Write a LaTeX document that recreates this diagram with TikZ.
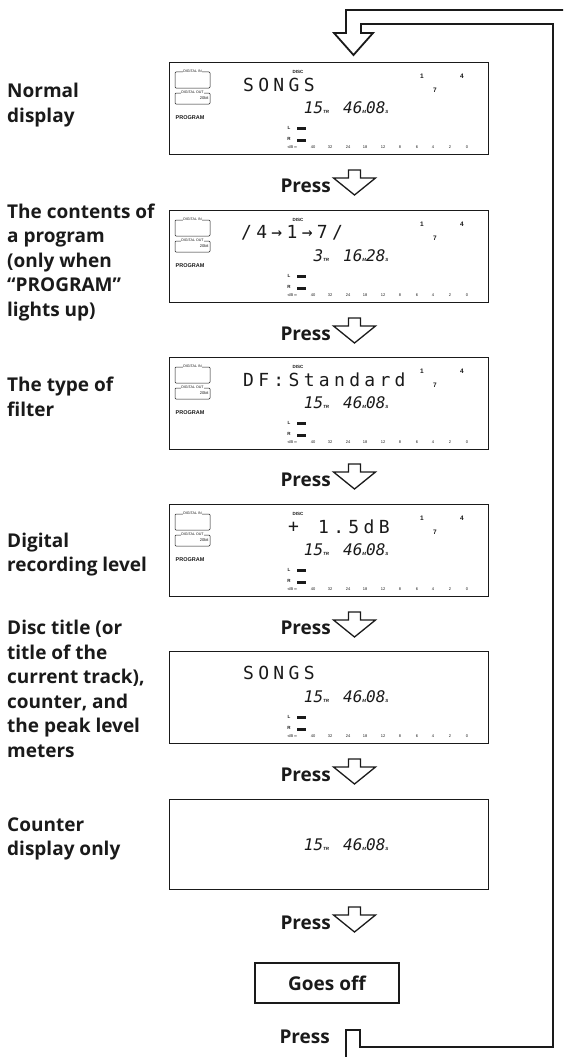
\documentclass[tikz,border=0pt]{standalone}
\usepackage{fontspec}
\setmainfont{Open Sans}
\newfontfamily\lcdfont[LetterSpace=24]{DejaVu Sans Mono}
\newfontfamily\segfont{DejaVu Sans Mono}
\newfontfamily\tagfont{Liberation Sans}
\usetikzlibrary{positioning}
\definecolor{ink}{HTML}{1A1A1A}
\newcommand{\segsub}[1]{{\tagfont\bfseries\fontsize{4.5}{4.5}\selectfont#1}}
\tikzset{
  lcd/.style={draw=ink,line width=1.1pt,minimum width=319pt,minimum height=92pt,
    anchor=north west,inner sep=0pt},
  lcdtext/.style={font=\lcdfont\fontsize{18}{18}\selectfont,text=ink,anchor=west,inner sep=0pt},
  seg/.style={font=\segfont\itshape\fontsize{16}{16}\selectfont,text=ink,anchor=west,inner sep=0pt},
  tag/.style={font=\tagfont\bfseries\fontsize{4.5}{4.5}\selectfont,text=ink,inner sep=0pt},
  tagbox/.style={draw=ink,line width=.5pt,rounded corners=1pt,minimum width=35pt,inner sep=0pt},
  sidetext/.style={font=\fontsize{19}{24.5}\selectfont\bfseries,text=ink,align=left,
    anchor=west,inner sep=0pt},
  presstext/.style={font=\fontsize{19}{20}\selectfont\bfseries,text=ink,anchor=east,inner sep=0pt},
  offbox/.style={draw=ink,line width=1.6pt,minimum width=144pt,minimum height=40pt,
    font=\fontsize{19}{20}\selectfont\bfseries,text=ink},
  band/.style={draw=ink,line width=1.8pt,line join=miter},
  hollow/.style={draw=ink,line width=1.3pt,fill=white,line join=miter},
  pressarrow/.pic={\draw[hollow] (-6,-16) -- (6,-16) -- (6,-8) -- (21,-8) -- (0,9)
    -- (-21,-8) -- (-6,-8) -- cycle;},
}
\newcommand{\lcdextras}[2]{%
  \node[tagbox,minimum height=16pt] (#1din) at (192.5,#2+18) {};
  \node[tag,fill=white,inner xsep=.8pt,font=\tagfont\fontsize{3.6}{3.6}\selectfont] (#1dinlbl) at (#1din.north) {DIGITAL IN};
  \node[tagbox,minimum height=11pt] (#1dout) at (192.5,#2+36.5) {};
  \node[tag,fill=white,inner xsep=.5pt,font=\tagfont\fontsize{3.6}{3.6}\selectfont] (#1doutlbl) at (#1dout.north) {DIGITAL OUT};
  \node[tag,anchor=east,font=\tagfont\fontsize{4}{4}\selectfont] (#1bit) at ([xshift=-1.5pt]#1dout.east) {20bit};
  \node[tag,font=\tagfont\bfseries\fontsize{5.5}{5.5}\selectfont] (#1prog) at (190,#2+56) {PROGRAM};
  \node[tag] (#1disc) at (298,#2+10) {DISC};
  \foreach \n/\x/\y in {1/422/14,4/462/14,7/435/28}
    \node[tag,font=\tagfont\bfseries\fontsize{6.5}{6.5}\selectfont] (#1num\n) at (\x,#2+\y) {\n};
}
\newcommand{\lcdmeter}[2]{%
  \node[tag] (#1ml) at (289,#2+66) {L};\fill[ink] (297,#2+64.5) rectangle (306,#2+67.5);
  \node[tag] (#1mr) at (289,#2+77) {R};\fill[ink] (297,#2+76.5) rectangle (306,#2+79.5);
  \node[tag,font=\tagfont\fontsize{4}{4}\selectfont] (#1db) at (292,#2+85) {-dB\,∞};
  \foreach \v/\x in {40/313,32/330,24/348,18/365,12/383,8/400,6/417,4/433,2/450,0/467}
    \node[tag,font=\tagfont\fontsize{4}{4}\selectfont] (#1s\v) at (\x,#2+85) {\v};
}
\newcommand{\lcdcount}[5]{%
  \node[seg] (#1cnt) at (305,#2+46) {\makebox[18pt][r]{#3}\segsub{TR}\hspace{14pt}#4\segsub{M}#5\segsub{S}};
}

\begin{document}
\begin{tikzpicture}[x=1pt,y=-1pt]
\useasboundingbox (0,0) rectangle (563,1057);
\node[lcd] (disp1) at (169,62) {};
\lcdextras{p1}{62}\node[lcdtext] (p1txt) at (243,85) {SONGS};
\lcdcount{p1}{62}{15}{46}{08}\lcdmeter{p1}{62}
\node[lcd] (disp2) at (169,210) {};
\lcdextras{p2}{210}\node[lcdtext] (p2txt) at (241,233) {/4→1→7/};
\lcdcount{p2}{210}{3}{16}{28}\lcdmeter{p2}{210}
\node[lcd] (disp3) at (169,357) {};
\lcdextras{p3}{357}\node[lcdtext] (p3txt) at (243,380) {DF:Standard};
\lcdcount{p3}{357}{15}{46}{08}\lcdmeter{p3}{357}
\node[lcd] (disp4) at (169,504) {};
\lcdextras{p4}{504}\node[lcdtext] (p4plus) at (288,527) {+};\node[lcdtext] (p4txt) at (318,527) {1.5dB};
\lcdcount{p4}{504}{15}{46}{08}\lcdmeter{p4}{504}
\node[lcd] (disp5) at (169,651) {};
\node[lcdtext] (p5txt) at (243,673) {SONGS};
\lcdcount{p5}{651}{15}{46}{08}\lcdmeter{p5}{651}
\node[lcd,minimum height=90pt] (disp6) at (169,799) {};
\lcdcount{p6}{799}{15}{46}{08}
\node[sidetext] (lbnormal) at (7,105) {Normal\\display};
\node[sidetext] (lbprog) at (7,262.5) {The contents of\\a program\\(only when\\“PROGRAM”\\lights up)};
\node[sidetext] (lbfilter) at (7,397) {The type of\\filter};
\node[sidetext] (lblevel) at (7,554.5) {Digital\\recording level};
\node[sidetext] (lbtitle) at (7,689) {Disc title (or\\title of the\\current track),\\counter, and\\the peak level\\meters};
\node[sidetext] (lbcount) at (7,839) {Counter\\display only};
\foreach \c [count=\i] in {186,334,480,628,775,923}{
  \node[presstext] (press\i) at (331,\c) {Press};\pic at (354.5,\c) {pressarrow};}
\node[offbox] (off) at (327,983) {Goes off};
\node[presstext] (press7) at (330,1037) {Press};
\coordinate (backin) at (346,1057);\coordinate (backout) at (563,10);
\draw[band] (backin) |- (360,1030) |- (553,1047) |- (361,24) -- (361,33) -- (373,33)
  -- (353.5,55) -- (334,33) -- (346,33) |- (backout);
\end{tikzpicture}
\end{document}
